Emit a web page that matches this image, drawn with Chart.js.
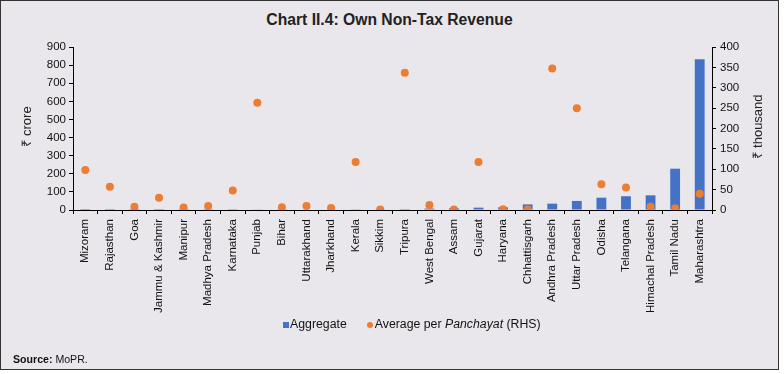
<!DOCTYPE html>
<html>
<head>
<meta charset="utf-8">
<script src="https://cdn.jsdelivr.net/npm/chart.js@4"></script>
<style>
  body { margin: 0; background: #fff; }
  #frame {
    position: absolute; left: 0; top: 0; width: 777px; height: 368px;
    border: 1.5px solid #333; background: #E9E7EC;
    font-family: "Liberation Sans", Arial, sans-serif;
  }
  #title {
    position: absolute; top: 10px; left: 0; width: 100%; text-align: center;
    font-family: "Liberation Sans", Arial, sans-serif;
    font-weight: bold; font-size: 16px; color: #222;
    transform: scaleX(0.98);
  }
  #legend {
    position: absolute; top: 316px; left: 282px; font-size: 12.3px; color: #111;
    white-space: nowrap;
  }
  #legend .sq { display: inline-block; width: 6px; height: 6px; background: #4472C4; margin-right: 1px; }
  #legend .dot { display: inline-block; width: 6px; height: 6px; border-radius: 50%; background: #ED7D31; margin-left: 20px; margin-right: 2px; }
  #source {
    position: absolute; top: 352px; left: 12px; font-size: 10.6px; color: #111;
  }
  canvas { position: absolute; left: 0; top: 0; }
</style>
</head>
<body>
<div id="frame">
  <div id="title">Chart II.4: Own Non-Tax Revenue</div>
  <canvas id="chart" width="777" height="368"></canvas>
  <div id="legend"><span class="sq"></span>Aggregate<span class="dot"></span>Average per <i>Panchayat</i> (RHS)</div>
  <div id="source"><b>Source:</b> MoPR.</div>
</div>
<script>
const states = ["Mizoram", "Rajasthan", "Goa", "Jammu & Kashmir", "Manipur", "Madhya Pradesh",
  "Karnataka", "Punjab", "Bihar", "Uttarakhand", "Jharkhand", "Kerala", "Sikkim", "Tripura",
  "West Bengal", "Assam", "Gujarat", "Haryana", "Chhattisgarh", "Andhra Pradesh", "Uttar Pradesh",
  "Odisha", "Telangana", "Himachal Pradesh", "Tamil Nadu", "Maharashtra"];
// ₹ crore (LHS)
const aggregate = [0.2, 0.3, 0.4, 0.5, 0.6, 0.8, 1, 2, 2, 2.5, 3, 4, 4, 5, 8, 10, 13, 15, 31, 35,
  50, 68, 76, 81, 228, 832];
// ₹ thousand (RHS)
const avgPerPanchayat = [98, 57, 8, 30, 6, 10, 48, 263, 7, 10, 5, 118, 1, 337, 12, 1, 118, 2, 1, 347,
  250, 63, 55, 8, 4, 40];

const axisTitles = {
  id: 'axisTitles',
  afterDraw(chart) {
    const c = chart.ctx;
    const a = chart.chartArea;
    const mid = (a.top + a.bottom) / 2 - 2;
    [['₹ crore', 26], ['₹ thousand', 757]].forEach(([txt, x]) => {
      c.save();
      c.fillStyle = '#222';
      c.font = '13px "Liberation Sans", Arial, sans-serif';
      c.textAlign = 'center';
      c.textBaseline = 'middle';
      c.translate(x, mid);
      c.rotate(-Math.PI / 2);
      c.fillText(txt, 0, 0);
      c.restore();
    });
  }
};

const tickFont = { family: '"Liberation Sans", Arial, sans-serif', size: 11.5 };

new Chart(document.getElementById('chart'), {
  type: 'bar',
  data: {
    labels: states,
    datasets: [
      {
        type: 'line',
        label: 'Average per Panchayat (RHS)',
        data: avgPerPanchayat,
        yAxisID: 'y1',
        showLine: false,
        pointRadius: 4,
        pointBackgroundColor: '#ED7D31',
        pointBorderColor: '#ED7D31',
        pointBorderWidth: 0,
        order: 0
      },
      {
        label: 'Aggregate',
        data: aggregate,
        yAxisID: 'y',
        backgroundColor: '#4472C4',
        barPercentage: 0.5,
        categoryPercentage: 0.8,
        order: 1
      }
    ]
  },
  options: {
    responsive: false,
    animation: false,
    layout: { padding: { top: 46, left: 0, right: 0, bottom: 0 } },
    plugins: {
      legend: { display: false },
      tooltip: { enabled: false }
    },
    scales: {
      x: {
        grid: { drawOnChartArea: false, tickLength: 4, color: '#000', offset: true },
        border: { color: '#000' },
        ticks: { color: '#111', font: tickFont, minRotation: 90, maxRotation: 90, autoSkip: false, padding: 5 },
        afterFit(s) { s.height = 368 - 209; }
      },
      y: {
        position: 'left',
        min: 0, max: 900,
        grid: { drawOnChartArea: false, tickLength: 4, color: '#000' },
        border: { color: '#000' },
        ticks: { stepSize: 100, color: '#111', font: tickFont, padding: 3 },
        afterFit(s) { s.width = 72; }
      },
      y1: {
        position: 'right',
        min: 0, max: 400,
        grid: { drawOnChartArea: false, tickLength: 4, color: '#000' },
        border: { color: '#000' },
        ticks: { stepSize: 50, color: '#111', font: tickFont, padding: 4 },
        afterFit(s) { s.width = 777 - 711; }
      }
    }
  },
  plugins: [axisTitles]
});
</script>
</body>
</html>
